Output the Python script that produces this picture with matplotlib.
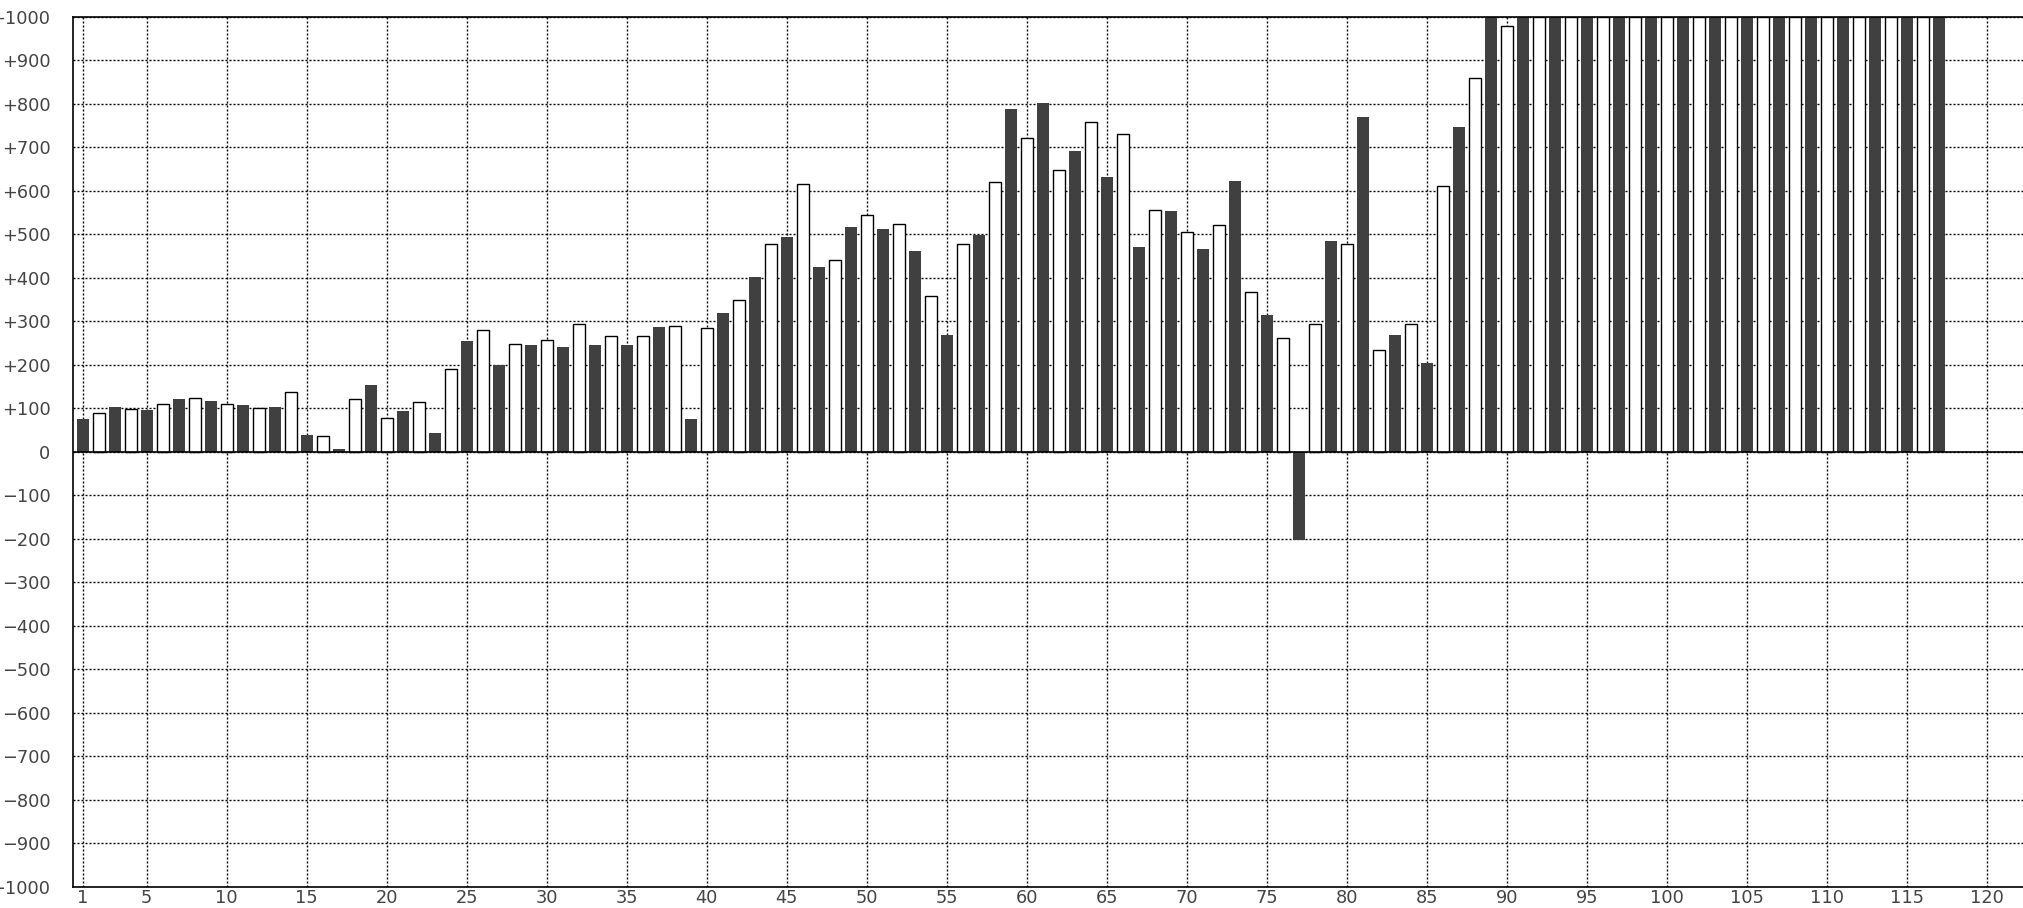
import matplotlib
matplotlib.use("Agg")
import matplotlib.pyplot as plt

# bars at odd positions (dark) and even positions (white)
dark_values = [75, 103, 95, 121, 116, 107, 103, 38, 6, 153, 93, 43, 254, 199, 245,
               241, 245, 245, 287, 75, 319, 402, 493, 425, 516, 512, 461, 268, 498, 788,
               802, 691, 631, 470, 553, 466, 622, 314, -202, 484, 769, 268, 204, 746,
               1000, 1000, 1000, 1000, 1000, 1000, 1000, 1000, 1000, 1000, 1000, 1000,
               1000, 1000, 1000]
light_values = [88, 97, 110, 124, 110, 101, 138, 37, 120, 78, 115, 189, 280, 248, 257,
                294, 267, 267, 290, 285, 349, 478, 616, 441, 543, 524, 359, 478, 621, 722,
                648, 759, 731, 556, 506, 520, 368, 262, 294, 478, 234, 294, 611, 860, 979,
                1000, 1000, 1000, 1000, 1000, 1000, 1000, 1000, 1000, 1000, 1000, 1000, 1000]
dark_pos = list(range(1, 2 * len(dark_values), 2))
light_pos = list(range(2, 2 * len(light_values) + 1, 2))

x_ticks = [1] + list(range(5, 121, 5))
y_ticks = list(range(-1000, 1001, 100))
y_labels = []
for v in y_ticks:
    if v > 0:
        y_labels.append("+{}".format(v))
    elif v < 0:
        y_labels.append("\u2212{}".format(-v))
    else:
        y_labels.append("0")

fig = plt.figure(figsize=(20.24, 9.08), dpi=100)
ax = fig.add_axes([0.0359, 0.0235, 0.9641, 0.9581])

ax.bar(dark_pos, dark_values, width=0.75, color="#404040", linewidth=0, zorder=2)
ax.bar(light_pos, light_values, width=0.75, color="white", edgecolor="black",
       linewidth=1.0, zorder=2)
ax.axhline(0, color="black", linewidth=1.2, zorder=3)

ax.set_xlim(0.375, 122.33)
ax.set_ylim(-1000, 1000)
ax.set_xticks(x_ticks)
ax.set_yticks(y_ticks)
ax.set_yticklabels(y_labels)
ax.tick_params(axis="both", length=0, labelsize=12.8, colors="#444444")
ax.tick_params(axis="y", pad=16)
ax.tick_params(axis="x", pad=2)
ax.grid(True, color="black", linestyle=(0, (1.44, 1.44)), linewidth=1.0, zorder=1)
ax.set_axisbelow(True)

for side in ["top", "left", "bottom"]:
    ax.spines[side].set_linewidth(1.2)
    ax.spines[side].set_color("black")
ax.spines["right"].set_visible(False)

fig.savefig("out.png", dpi=100)
